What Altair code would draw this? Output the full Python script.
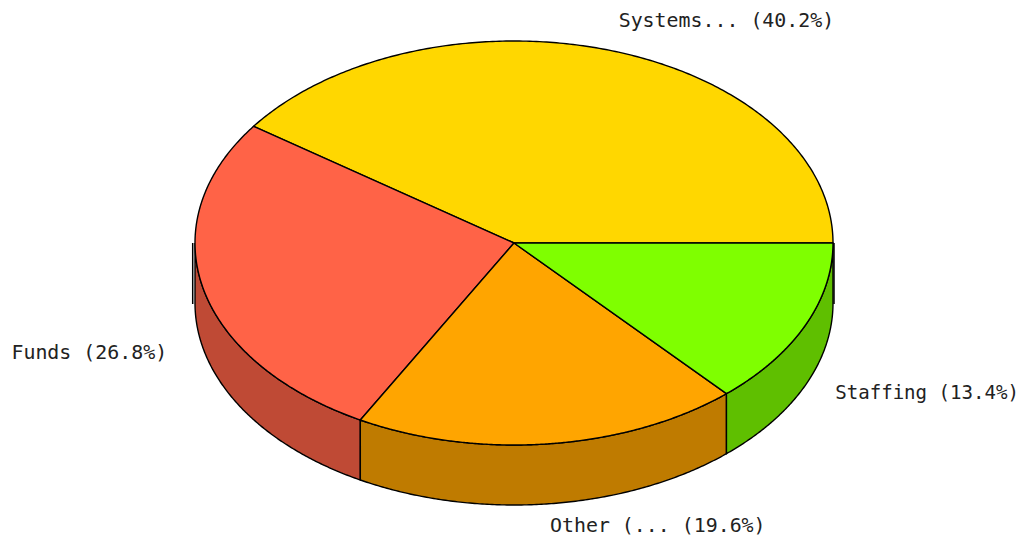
import numpy as np
import pandas as pd
import altair as alt

names = ["Systems...", "Funds", "Other (...", "Staffing"]
shares = [40.2, 26.8, 19.6, 13.4]
top_colors = ["#FFD700", "#FF6347", "#FFA500", "#7FFF00"]
side_colors = ["#BFA100", "#BF4A35", "#BF7B00", "#5FBF00"]

W, H = 1010, 531
CX, CY, RX, RY, DEPTH = 514, 243, 319, 202, 60
OFFSETS = [(8, -29, "left", 19.9), (-36, 5, "right", 19.9), (0, 22, "left", 19.9), (30, 7, "left", 19.1)]

edges = np.concatenate([[0], np.cumsum(shares)]) / 100 * 360
x_scale = alt.Scale(domain=[8, 8 + W], range=[0, W])
y_scale = alt.Scale(domain=[8 + H, 8], range=[H, 0])
X = alt.X("x:Q", scale=x_scale, axis=None)
Y = alt.Y("y:Q", scale=y_scale, axis=None)


def ell(deg, drop=0.0):
    a = np.radians(deg)
    return CX + RX * np.cos(a), CY - RY * np.sin(a) + drop


def poly(xs, ys):
    return pd.DataFrame({"x": xs, "y": ys, "i": range(len(xs))})


LINE = dict(stroke="#000000", strokeWidth=1.4, strokeJoin="miter", clip=False)
side_layers, top_layers, label_layers = [], [], []
for k, name in enumerate(names):
    a0, a1 = edges[k], edges[k + 1]
    s0, s1 = max(a0, 180), min(a1, 360)
    if s1 > s0:
        t = np.linspace(s0, s1, 160)
        xt, yt = ell(t)
        xb, yb = ell(t[::-1], DEPTH)
        xs = np.r_[xt, xb, xt[0]]
        ys = np.r_[yt, yb, yt[0]]
        side_layers.append(
            alt.Chart(poly(xs, ys)).mark_line(fill=side_colors[k], **LINE).encode(x=X, y=Y, order="i:Q")
        )
    t = np.linspace(a0, a1, 240)
    xt, yt = ell(t)
    xs = np.r_[CX, xt, CX]
    ys = np.r_[CY, yt, CY]
    top_layers.append(
        alt.Chart(poly(xs, ys)).mark_line(fill=top_colors[k], **LINE).encode(x=X, y=Y, order="i:Q")
    )
    mid = (a0 + a1) / 2
    lx, ly = ell(mid, DEPTH if mid > 180 else 0)
    dx, dy, align, size = OFFSETS[k]
    label_layers.append(
        alt.Chart(pd.DataFrame({"x": [lx], "y": [ly], "t": [f"{name} ({shares[k]:.1f}%)"]}))
        .mark_text(font="DejaVu Sans Mono", fontSize=size, color="#222222", align=align, baseline="middle", dx=dx, dy=dy, clip=False)
        .encode(x=X, y=Y, text="t:N")
    )

edge_df = pd.DataFrame({"x": [192.7, 834.0], "y": [CY, CY], "y2": [CY + DEPTH + 1, CY + DEPTH + 1]})
edge_rules = alt.Chart(edge_df).mark_rule(color="#000000", strokeWidth=1.5).encode(x=X, y=Y, y2="y2:Q")

chart = (
    alt.layer(*side_layers, edge_rules, *top_layers, *label_layers)
    .properties(width=W, height=H, padding=0, background="#FFFFFF",
                autosize=alt.AutoSizeParams(type="none"))
    .configure_view(strokeWidth=0, stroke="transparent")
)
chart.save("out.html", embed_options={"renderer": "svg", "actions": False})
